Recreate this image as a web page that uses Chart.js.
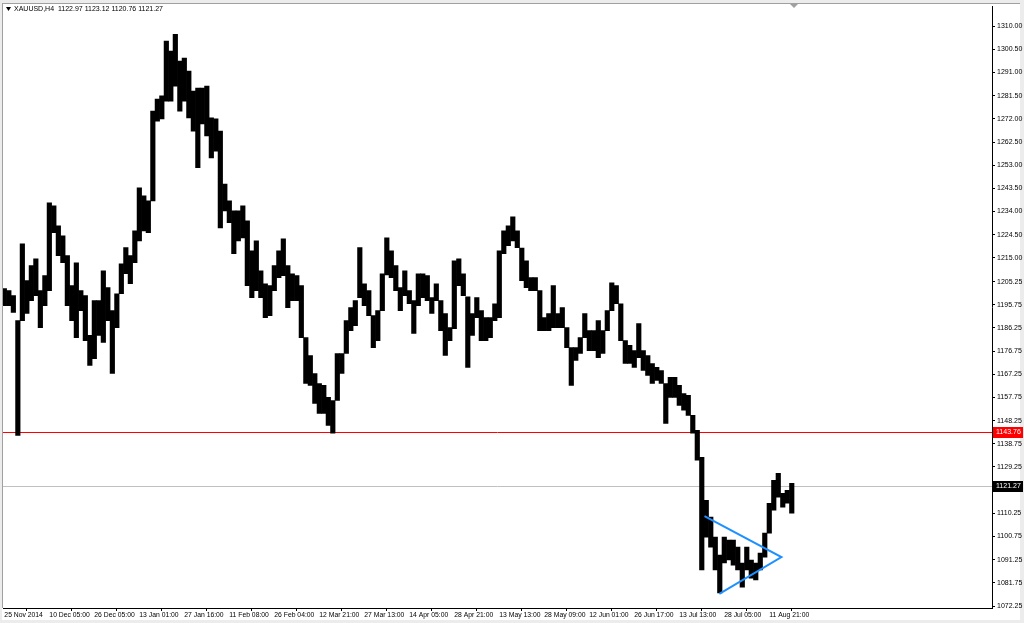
<!DOCTYPE html>
<html><head><meta charset="utf-8">
<script src="https://cdn.jsdelivr.net/npm/chart.js@4.4.0/dist/chart.umd.min.js"></script>
<style>html,body{margin:0;padding:0;background:#fff;}#wrap{width:1024px;height:623px;position:relative;}</style>
</head><body><div id="wrap"><canvas id="c" width="1024" height="623"></canvas></div>
<script>
const symbolTitle = 'XAUUSD,H4';
const lastQuote = ['1122.97', '1123.12', '1120.76', '1121.27'];
const timeLabels = ['25 Nov 2014','10 Dec 05:00','26 Dec 05:00','13 Jan 01:00','27 Jan 16:00','11 Feb 08:00','26 Feb 04:00','12 Mar 21:00','27 Mar 13:00','14 Apr 05:00','28 Apr 21:00','13 May 13:00','28 May 09:00','12 Jun 01:00','26 Jun 17:00','13 Jul 13:00','28 Jul 05:00','11 Aug 21:00'];
const timeLabelColumns = [0,10,20,30,40,50,60,70,80,90,100,110,120,130,140,150,160,170];
const priceTicks = [1310.00,1300.50,1291.00,1281.50,1272.00,1262.50,1253.00,1243.50,1234.00,1224.50,1215.00,1205.25,1195.75,1186.25,1176.75,1167.25,1157.75,1148.25,1138.75,1129.25,1119.75,1110.25,1100.75,1091.25,1081.75,1072.25];
const highs = [1202.4,1201.6,1199.5,1189.3,1220.8,1205.7,1211.8,1214.6,1201.6,1207.7,
1237.6,1236.3,1228.1,1224.0,1215.9,1203.6,1213.0,1201.6,1199.5,1183.2,
1197.5,1197.5,1209.7,1202.8,1193.4,1200.3,1212.6,1219.2,1215.9,1226.1,
1243.7,1240.4,1238.4,1275.2,1280.1,1281.4,1303.9,1299.8,1306.7,1295.7,
1296.9,1291.6,1283.4,1284.6,1284.6,1285.4,1272.4,1272.0,1267.0,1245.3,
1238.4,1234.3,1234.3,1236.3,1230.2,1217.9,1222.0,1209.7,1204.4,1203.6,
1211.8,1217.9,1222.8,1211.8,1208.5,1207.7,1203.6,1182.3,1174.9,1167.6,
1163.5,1162.7,1157.8,1156.5,1175.8,1175.8,1189.3,1194.6,1197.5,1219.2,
1204.4,1201.6,1191.3,1193.4,1208.5,1223.2,1217.9,1211.8,1202.8,1209.7,
1201.6,1197.5,1208.5,1208.5,1207.7,1198.7,1204.4,1197.5,1192.2,1186.4,
1213.8,1214.6,1208.5,1199.0,1192.2,1198.7,1193.4,1190.5,1190.5,1196.2,
1217.9,1226.1,1228.1,1231.8,1226.1,1219.0,1213.8,1206.9,1206.9,1201.6,
1190.5,1192.2,1203.6,1192.2,1194.6,1186.4,1178.2,1178.2,1182.3,1192.2,
1185.2,1185.2,1189.3,1185.2,1193.4,1204.8,1203.6,1196.2,1181.1,1179.1,
1177.0,1188.1,1177.0,1174.9,1171.7,1170.1,1168.8,1163.5,1166.0,1166.0,
1162.7,1159.4,1158.6,1150.4,1144.3,1133.2,1115.6,1108.7,1100.5,1093.1,
1100.5,1099.3,1099.3,1096.4,1089.9,1096.4,1091.1,1089.9,1094.0,1102.1,
1114.4,1123.8,1126.7,1118.5,1119.7,1122.6];
const lows = [1195.4,1195.4,1192.6,1142.2,1189.3,1192.2,1197.5,1199.5,1186.4,1195.4,
1201.6,1225.3,1215.9,1213.0,1195.4,1189.3,1182.3,1193.4,1181.1,1170.9,
1173.7,1183.2,1180.3,1189.3,1167.6,1186.4,1200.3,1208.5,1204.4,1213.0,
1222.0,1226.1,1225.3,1238.4,1271.1,1272.0,1279.3,1279.3,1285.4,1275.2,
1279.3,1272.4,1267.0,1252.0,1269.9,1265.0,1256.0,1258.8,1227.3,1234.3,
1229.4,1216.7,1222.0,1223.2,1203.6,1198.7,1201.6,1198.7,1190.5,1191.3,
1201.6,1206.9,1207.7,1194.6,1197.5,1197.5,1182.3,1163.5,1162.7,1155.3,
1151.2,1151.2,1146.3,1143.1,1156.5,1167.6,1175.8,1185.2,1187.2,1198.7,
1195.4,1191.3,1178.2,1181.1,1193.4,1208.0,1206.9,1201.6,1193.4,1199.5,
1196.2,1184.0,1195.4,1198.7,1197.5,1192.2,1197.5,1185.2,1175.0,1181.1,
1186.0,1203.6,1199.5,1170.1,1183.2,1190.5,1181.1,1181.1,1182.3,1189.3,
1190.5,1216.7,1220.0,1222.0,1219.2,1205.7,1202.8,1201.6,1201.6,1185.2,
1185.2,1185.2,1186.4,1186.4,1186.4,1178.2,1162.7,1172.9,1175.8,1182.3,
1177.0,1177.0,1174.1,1175.8,1185.2,1193.4,1196.2,1181.1,1171.7,1171.7,
1170.1,1174.1,1168.8,1166.8,1163.5,1164.7,1163.5,1147.1,1157.8,1157.8,
1154.5,1152.5,1150.4,1143.1,1132.0,1087.0,1100.5,1096.4,1087.0,1077.6,
1089.9,1091.1,1089.0,1087.0,1080.0,1087.0,1083.7,1082.9,1087.0,1092.3,
1102.1,1111.5,1116.9,1112.8,1114.4,1110.3];
const levelLine = 1143.76;
const bidPrice = 1121.27;
const triangleX = [155.6, 172.7, 158.9];
const triangleY = [1109.1, 1092.3, 1077.2];

const FONT = 'Liberation Sans';

const framePlugin = {
  id: 'frame',
  beforeDraw(chart) {
    const ctx = chart.ctx;
    ctx.save();
    ctx.fillStyle = '#ececec';
    ctx.fillRect(0, 0, 1024, 623);
    ctx.fillStyle = '#ffffff';
    ctx.fillRect(2, 3, 1018, 617);
    ctx.strokeStyle = '#a0a0a0';
    ctx.lineWidth = 1;
    ctx.beginPath();
    ctx.moveTo(2.5, 3); ctx.lineTo(2.5, 608);
    ctx.moveTo(2, 3.5); ctx.lineTo(1020, 3.5);
    ctx.stroke();
    ctx.restore();
  },
  beforeDatasetsDraw(chart) {
    const ctx = chart.ctx, a = chart.chartArea, y = chart.scales.y;
    ctx.save();
    ctx.lineWidth = 1;
    const yb = Math.round(y.getPixelForValue(bidPrice)) + 0.5;
    ctx.strokeStyle = '#c0c0c0';
    ctx.beginPath(); ctx.moveTo(a.left, yb); ctx.lineTo(a.right, yb); ctx.stroke();
    const yl = Math.round(y.getPixelForValue(levelLine)) + 0.5;
    ctx.strokeStyle = '#ff0000';
    ctx.beginPath(); ctx.moveTo(a.left, yl); ctx.lineTo(a.right, yl); ctx.stroke();
    ctx.restore();
  },
  afterDraw(chart) {
    const ctx = chart.ctx, a = chart.chartArea, y = chart.scales.y, x = chart.scales.x;
    ctx.save();
    ctx.fillStyle = '#000';
    ctx.beginPath(); ctx.moveTo(6, 7); ctx.lineTo(11, 7); ctx.lineTo(8.5, 11); ctx.closePath(); ctx.fill();
    ctx.font = '7px ' + FONT;
    ctx.textBaseline = 'middle';
    ctx.textAlign = 'left';
    ctx.fillText(symbolTitle + '  ' + lastQuote.join(' '), 14, 9.5);
    const box = (val, bg) => {
      const py = Math.round(y.getPixelForValue(val));
      ctx.fillStyle = bg;
      ctx.fillRect(a.right + 1, py - 5, 30, 11);
      ctx.fillStyle = '#fff';
      ctx.font = '7px ' + FONT;
      ctx.fillText(val.toFixed(2), a.right + 4, py + 0.5);
    };
    box(levelLine, '#ff0000');
    box(bidPrice, '#000000');
    const mx = x.getPixelForValue(highs.length - 0.5);
    ctx.fillStyle = '#a0a0a0';
    ctx.beginPath(); ctx.moveTo(mx - 4, 4); ctx.lineTo(mx + 4, 4); ctx.lineTo(mx, 8); ctx.closePath(); ctx.fill();
    ctx.restore();
  }
};

const barData = highs.map((h, i) => ({ x: i, y: [lows[i], h] }));
const triData = triangleX.map((v, i) => ({ x: v, y: triangleY[i] }));

new Chart(document.getElementById('c'), {
  type: 'bar',
  data: {
    datasets: [
      { type: 'line', data: triData, borderColor: '#1e90ff', borderWidth: 2, pointRadius: 0, fill: false, tension: 0, order: 0 },
      { type: 'bar', data: barData, backgroundColor: '#000', borderWidth: 0, barPercentage: 1, categoryPercentage: 1, grouped: false, order: 1 }
    ]
  },
  options: {
    responsive: false,
    animation: false,
    events: [],
    layout: { padding: { left: 3, top: 5, right: 0, bottom: 0 } },
    plugins: { legend: { display: false }, tooltip: { enabled: false }, title: { display: false } },
    scales: {
      x: {
        type: 'linear', min: -0.3, max: 219.5, offset: false,
        afterBuildTicks: s => { s.ticks = timeLabelColumns.map(v => ({ value: v })); },
        afterFit: s => { s.height = 15; },
        border: { display: true, color: '#000', width: 1 },
        grid: { drawOnChartArea: false, drawTicks: true, tickLength: 3, color: '#000' },
        ticks: { autoSkip: false, maxRotation: 0, minRotation: 0, align: 'start', padding: 0,
          font: { size: 6.8, family: FONT }, color: '#000',
          callback: v => timeLabels[timeLabelColumns.indexOf(v)] }
      },
      y: {
        position: 'right', min: 1071.43, max: 1318.2,
        afterBuildTicks: s => { s.ticks = priceTicks.map(v => ({ value: v })); },
        afterFit: s => { s.width = 32; },
        border: { display: true, color: '#000', width: 1 },
        grid: { drawOnChartArea: false, drawTicks: true, tickLength: 3, color: '#000' },
        ticks: { font: { size: 7, family: FONT }, color: '#000', padding: 2, callback: v => v.toFixed(2) }
      }
    }
  },
  plugins: [framePlugin]
});
</script>
</body></html>
